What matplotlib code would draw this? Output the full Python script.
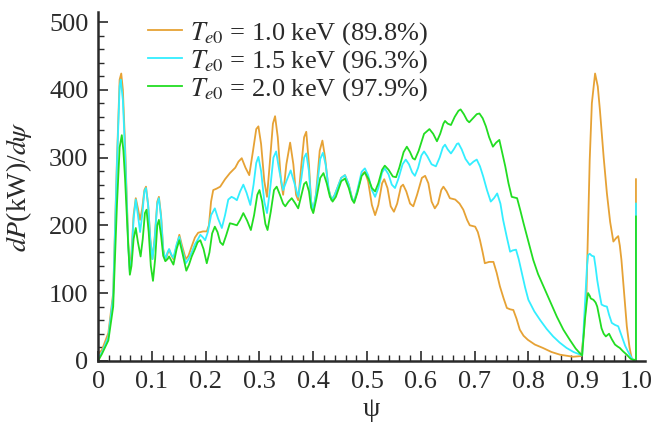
import matplotlib
matplotlib.use('Agg')
import matplotlib.pyplot as plt
from matplotlib.ticker import MultipleLocator

plt.rcParams['font.family'] = ['Liberation Serif', 'DejaVu Serif']
plt.rcParams['mathtext.fontset'] = 'stix'

# Te0 = 1.0 keV
psi_10 = [0, 0.007, 0.019, 0.028, 0.035, 0.040, 0.043, 0.046, 0.050, 0.056, 0.059, 0.062, 0.066, 0.070, 0.074, 0.078,
          0.082, 0.086, 0.089, 0.093, 0.097, 0.101, 0.105, 0.110, 0.113, 0.117, 0.121, 0.125, 0.129, 0.132, 0.136, 0.140,
          0.146, 0.151, 0.156, 0.163, 0.168, 0.174, 0.180, 0.186, 0.195, 0.202, 0.206, 0.210, 0.214, 0.220, 0.227, 0.236,
          0.245, 0.255, 0.261, 0.267, 0.274, 0.281, 0.288, 0.294, 0.298, 0.303, 0.309, 0.314, 0.319, 0.325, 0.329, 0.334,
          0.340, 0.344, 0.350, 0.357, 0.363, 0.368, 0.372, 0.378, 0.383, 0.387, 0.392, 0.396, 0.400, 0.405, 0.412, 0.417,
          0.422, 0.428, 0.434, 0.440, 0.452, 0.459, 0.466, 0.472, 0.476, 0.482, 0.490, 0.496, 0.502, 0.509, 0.515, 0.521,
          0.528, 0.532, 0.538, 0.544, 0.550, 0.556, 0.563, 0.567, 0.573, 0.580, 0.586, 0.593, 0.602, 0.608, 0.614, 0.620,
          0.626, 0.632, 0.638, 0.642, 0.648, 0.654, 0.664, 0.672, 0.679, 0.686, 0.691, 0.696, 0.701, 0.706, 0.710, 0.715,
          0.719, 0.727, 0.735, 0.741, 0.747, 0.754, 0.760, 0.766, 0.772, 0.778, 0.784, 0.791, 0.799, 0.812, 0.827, 0.843,
          0.859, 0.883, 0.898, 0.903, 0.908, 0.911, 0.914, 0.918, 0.924, 0.929, 0.933, 0.940, 0.946, 0.952, 0.958, 0.963,
          0.967, 0.970, 0.973, 0.978, 0.983, 0.988, 0.992, 0.996, 1.0, 1.0]
p_10 = [10, 16, 41, 100, 296, 415, 424, 400, 321, 174, 135, 160, 215, 240, 225, 208,
        225, 252, 257, 230, 180, 150, 180, 235, 242, 215, 165, 148, 158, 164, 156, 150,
        170, 186, 170, 150, 155, 169, 182, 189, 191, 191, 200, 235, 252, 254, 257, 268,
        277, 285, 294, 299, 285, 274, 310, 342, 346, 320, 265, 242, 290, 350, 361, 330,
        265, 245, 290, 322, 290, 245, 237, 290, 330, 338, 290, 235, 220, 245, 310, 325,
        300, 255, 237, 245, 270, 274, 260, 240, 235, 250, 275, 279, 265, 230, 215, 230,
        262, 268, 255, 228, 220, 232, 257, 260, 250, 232, 228, 245, 270, 273, 262, 235,
        225, 232, 252, 257, 250, 240, 238, 232, 223, 208, 200, 199, 198, 190, 178, 160,
        144, 146, 146, 130, 110, 92, 78, 76, 75, 62, 46, 37, 31, 24, 19, 13,
        9, 6, 7, 40, 100, 200, 296, 380, 424, 405, 370, 300, 247, 205, 176, 181,
        184, 170, 149, 100, 51, 20, 4, 1, 2, 268]

# Te0 = 1.5 keV
psi_15 = [0, 0.007, 0.019, 0.028, 0.035, 0.040, 0.042, 0.046, 0.050, 0.056, 0.059, 0.062, 0.066, 0.070, 0.074, 0.078,
          0.082, 0.086, 0.089, 0.093, 0.097, 0.101, 0.105, 0.110, 0.113, 0.117, 0.121, 0.125, 0.129, 0.132, 0.136, 0.140,
          0.146, 0.151, 0.156, 0.163, 0.168, 0.174, 0.180, 0.186, 0.190, 0.195, 0.199, 0.204, 0.210, 0.217, 0.223, 0.230,
          0.236, 0.242, 0.248, 0.253, 0.258, 0.264, 0.270, 0.276, 0.283, 0.289, 0.294, 0.298, 0.303, 0.309, 0.314, 0.320,
          0.326, 0.331, 0.337, 0.344, 0.350, 0.358, 0.365, 0.372, 0.378, 0.383, 0.387, 0.392, 0.396, 0.400, 0.406, 0.413,
          0.418, 0.423, 0.429, 0.434, 0.440, 0.452, 0.459, 0.466, 0.472, 0.476, 0.482, 0.490, 0.496, 0.502, 0.509, 0.515,
          0.521, 0.528, 0.533, 0.540, 0.546, 0.552, 0.558, 0.566, 0.572, 0.578, 0.584, 0.589, 0.595, 0.601, 0.606, 0.612,
          0.620, 0.628, 0.635, 0.641, 0.645, 0.650, 0.656, 0.662, 0.667, 0.670, 0.676, 0.683, 0.691, 0.698, 0.704, 0.710,
          0.716, 0.723, 0.730, 0.736, 0.742, 0.748, 0.753, 0.760, 0.766, 0.771, 0.777, 0.782, 0.788, 0.794, 0.800, 0.811,
          0.822, 0.834, 0.846, 0.858, 0.871, 0.884, 0.900, 0.905, 0.909, 0.911, 0.914, 0.918, 0.922, 0.925, 0.928, 0.932,
          0.936, 0.941, 0.946, 0.950, 0.955, 0.961, 0.967, 0.971, 0.976, 0.980, 0.985, 0.992, 0.996, 1.0, 1.0]
p_15 = [5, 12, 35, 95, 290, 405, 415, 385, 310, 170, 130, 150, 210, 238, 215, 190,
        215, 250, 255, 230, 178, 150, 178, 232, 240, 212, 163, 150, 160, 165, 157, 152,
        172, 183, 165, 144, 150, 160, 172, 180, 186, 182, 178, 190, 215, 225, 210, 196,
        215, 238, 242, 240, 237, 250, 260, 248, 230, 260, 292, 301, 280, 235, 218, 255,
        300, 309, 280, 252, 265, 281, 262, 242, 270, 300, 306, 280, 235, 223, 250, 298,
        307, 290, 252, 237, 245, 270, 274, 260, 240, 235, 252, 279, 284, 274, 252, 242,
        255, 278, 284, 275, 260, 255, 268, 290, 297, 290, 278, 273, 285, 303, 309, 302,
        290, 287, 300, 315, 319, 312, 306, 313, 320, 321, 312, 298, 289, 294, 297, 287,
        272, 252, 235, 240, 247, 232, 208, 182, 161, 163, 164, 150, 129, 108, 90, 73,
        60, 47, 36, 27, 19, 13, 8, 80, 140, 156, 158, 155, 154, 138, 119, 100,
        83, 81, 80, 68, 56, 53, 51, 42, 31, 22, 14, 4, 1, 2, 232]

# Te0 = 2.0 keV
psi_20 = [0, 0.007, 0.019, 0.028, 0.035, 0.040, 0.044, 0.047, 0.050, 0.056, 0.059, 0.062, 0.066, 0.070, 0.074, 0.079,
          0.083, 0.087, 0.090, 0.094, 0.098, 0.102, 0.106, 0.110, 0.113, 0.117, 0.121, 0.125, 0.129, 0.132, 0.136, 0.140,
          0.146, 0.151, 0.157, 0.164, 0.169, 0.174, 0.180, 0.185, 0.190, 0.196, 0.202, 0.207, 0.212, 0.217, 0.222, 0.227,
          0.232, 0.238, 0.245, 0.250, 0.258, 0.264, 0.270, 0.277, 0.284, 0.290, 0.296, 0.300, 0.305, 0.311, 0.315, 0.321,
          0.327, 0.332, 0.338, 0.344, 0.348, 0.354, 0.360, 0.366, 0.372, 0.378, 0.383, 0.387, 0.392, 0.396, 0.400, 0.406,
          0.413, 0.419, 0.425, 0.431, 0.436, 0.442, 0.452, 0.459, 0.466, 0.472, 0.476, 0.482, 0.490, 0.496, 0.503, 0.509,
          0.515, 0.521, 0.528, 0.533, 0.540, 0.548, 0.554, 0.560, 0.568, 0.574, 0.580, 0.585, 0.589, 0.596, 0.606, 0.616,
          0.623, 0.630, 0.636, 0.642, 0.645, 0.650, 0.656, 0.663, 0.670, 0.674, 0.680, 0.686, 0.690, 0.697, 0.704, 0.709,
          0.715, 0.721, 0.727, 0.734, 0.740, 0.746, 0.751, 0.757, 0.763, 0.769, 0.774, 0.779, 0.785, 0.791, 0.800, 0.809,
          0.818, 0.828, 0.840, 0.853, 0.865, 0.877, 0.888, 0.896, 0.900, 0.905, 0.909, 0.911, 0.914, 0.916, 0.921, 0.925,
          0.928, 0.932, 0.936, 0.940, 0.944, 0.947, 0.950, 0.955, 0.961, 0.966, 0.970, 0.976, 0.983, 0.990, 0.996, 1.0, 1.0]
p_20 = [0, 10, 30, 80, 230, 315, 333, 310, 270, 170, 127, 140, 180, 196, 175, 154,
        180, 218, 223, 190, 140, 118, 150, 200, 208, 185, 155, 147, 150, 154, 148, 142,
        165, 178, 158, 133, 142, 154, 165, 175, 178, 165, 144, 160, 188, 198, 190, 175,
        171, 185, 203, 202, 200, 208, 218, 207, 193, 215, 245, 252, 235, 202, 193, 220,
        252, 257, 245, 232, 228, 235, 240, 233, 225, 245, 261, 264, 250, 226, 218, 240,
        270, 277, 262, 242, 235, 242, 265, 269, 255, 238, 233, 248, 273, 278, 268, 255,
        250, 262, 282, 288, 282, 272, 271, 285, 308, 316, 308, 299, 297, 310, 335, 342,
        335, 324, 335, 350, 354, 350, 348, 360, 369, 371, 364, 355, 352, 358, 364, 365,
        358, 346, 330, 316, 322, 326, 308, 287, 262, 242, 241, 240, 222, 203, 176, 149,
        128, 110, 88, 65, 46, 31, 18, 11, 8, 60, 90, 100, 96, 92, 90, 86,
        80, 64, 48, 40, 36, 38, 40, 32, 24, 21, 19, 14, 9, 3, 1, 2, 213]

labels = [r'$T_{e0}$ = 1.0 keV (89.8%)',
          r'$T_{e0}$ = 1.5 keV (96.3%)',
          r'$T_{e0}$ = 2.0 keV (97.9%)']
colors = ['#E6A235', '#33EEFF', '#22DD22']

xticks = [0, 0.1, 0.2, 0.3, 0.4, 0.5, 0.6, 0.7, 0.8, 0.9, 1.0]
xticklabels = ['0', '0.1', '0.2', '0.3', '0.4', '0.5', '0.6', '0.7', '0.8', '0.9', '1.0']
yticks = [0, 100, 200, 300, 400, 500]

fig = plt.figure(figsize=(6.63, 4.23), dpi=100)
ax = fig.add_axes([0.148, 0.147, 0.825, 0.825])

ax.plot(psi_10, p_10, color=colors[0], lw=1.3, label=labels[0])
ax.plot(psi_15, p_15, color=colors[1], lw=1.3, label=labels[1])
ax.plot(psi_20, p_20, color=colors[2], lw=1.3, label=labels[2])

ax.set_xlim(0, 1.017)
ax.set_ylim(0, 515)
ax.set_xticks(xticks)
ax.set_xticklabels(xticklabels)
ax.set_yticks(yticks)
ax.xaxis.set_minor_locator(MultipleLocator(0.02))
ax.yaxis.set_minor_locator(MultipleLocator(20))
ax.tick_params(which='major', direction='in', length=7, width=1.2, labelsize=19, colors='#2a2a2a')
ax.tick_params(axis='x', which='major', pad=7)
ax.tick_params(axis='y', which='major', pad=7)
ax.tick_params(which='minor', direction='in', length=4, width=1.0, colors='#2a2a2a')

for side in ['top', 'right']:
    ax.spines[side].set_visible(False)
for side in ['left', 'bottom']:
    ax.spines[side].set_linewidth(1.8)
    ax.spines[side].set_color('#2a2a2a')

ax.set_xlabel('ψ', fontsize=20, color='#2a2a2a', labelpad=3)
ax.set_ylabel(r'$dP$(kW)/$d\psi$', fontsize=20, color='#2a2a2a', labelpad=11)

leg = ax.legend(loc='upper left', bbox_to_anchor=(0.072, 1.007), frameon=False, fontsize=19,
                handlelength=1.3, handletextpad=0.3, labelspacing=0.05, borderaxespad=0.0)
for t in leg.get_texts():
    t.set_color('#2a2a2a')

plt.savefig('out.png', dpi=100)
